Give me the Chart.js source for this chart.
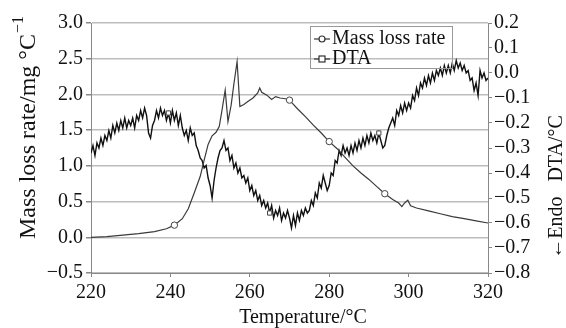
<!DOCTYPE html>
<html>
<head>
<meta charset="utf-8">
<script src="https://cdn.jsdelivr.net/npm/chart.js@4.4.0/dist/chart.umd.min.js"></script>
<style>
  html, body { margin: 0; padding: 0; background: #fff; }
  #wrap { width: 566px; height: 328px; position: relative; }
</style>
</head>
<body>
<div id="wrap"><canvas id="chart"></canvas></div>
<script>
// Mass loss rate (left axis, mg/°C)
const massTemps = [220, 224, 228, 232, 236, 239, 241, 243, 244.5, 246, 247.5, 248.5, 249.5, 250.5, 251.5, 252.3,
  253, 253.8, 254.5, 255.3, 256, 256.8, 257.5, 258.5, 259.5, 260.8, 262, 262.5, 263, 264.3, 265.5, 266.5,
  267.6, 269, 270, 272, 274, 276, 278, 280, 282, 284, 286, 288, 290, 292, 294, 296, 297.5, 298.3, 299,
  299.8, 300.5, 302, 305, 308, 311, 314, 317, 320];
const massLoss = [0.00, 0.01, 0.03, 0.05, 0.08, 0.12, 0.17, 0.26, 0.40, 0.62, 0.85, 1.08, 1.30, 1.42, 1.47, 1.55,
  1.78, 2.06, 1.62, 1.85, 2.15, 2.46, 1.83, 1.86, 1.90, 1.95, 2.02, 2.09, 2.03, 1.99, 1.93, 1.97,
  1.95, 1.94, 1.92, 1.80, 1.69, 1.57, 1.46, 1.34, 1.24, 1.12, 1.00, 0.90, 0.81, 0.71, 0.61, 0.53, 0.48, 0.43, 0.48,
  0.52, 0.44, 0.41, 0.37, 0.33, 0.29, 0.26, 0.23, 0.20];
const massMarkerTemps = [241, 270, 280, 294];

// DTA (right axis, °C), sampled every 0.5 °C from 220
const dtaStart = 220;
const dtaStep = 0.5;
const dtaValues = [
  -0.32, -0.29, -0.33, -0.28, -0.30, -0.26, -0.29, -0.25, -0.27, -0.23,
  -0.26, -0.21, -0.24, -0.20, -0.23, -0.19, -0.22, -0.18, -0.22, -0.19,
  -0.21, -0.18, -0.22, -0.17, -0.19, -0.15, -0.18, -0.14, -0.17, -0.24,
  -0.26, -0.21, -0.19, -0.15, -0.18, -0.14, -0.17, -0.15, -0.19, -0.16,
  -0.20, -0.15, -0.19, -0.16, -0.21, -0.17, -0.22, -0.25, -0.23, -0.27,
  -0.22, -0.25, -0.24, -0.29, -0.31, -0.34, -0.35, -0.38, -0.37, -0.42,
  -0.45, -0.50, -0.43, -0.38, -0.34, -0.31, -0.30, -0.27, -0.31, -0.30,
  -0.35, -0.33, -0.38, -0.36, -0.40, -0.38, -0.42, -0.41, -0.44, -0.42,
  -0.47, -0.45, -0.49, -0.47, -0.51, -0.49, -0.53, -0.51, -0.54, -0.52,
  -0.56, -0.53, -0.58, -0.55, -0.57, -0.54, -0.59, -0.56, -0.58, -0.55,
  -0.58, -0.62, -0.57, -0.61, -0.56, -0.59, -0.55, -0.57, -0.54, -0.56,
  -0.55, -0.51, -0.53, -0.48, -0.50, -0.44, -0.46, -0.41, -0.44, -0.47,
  -0.45, -0.40, -0.41, -0.35, -0.36, -0.31, -0.33, -0.29, -0.32, -0.30,
  -0.33, -0.29, -0.32, -0.28, -0.31, -0.27, -0.30, -0.26, -0.29, -0.25,
  -0.28, -0.24, -0.27, -0.25, -0.28, -0.24, -0.27, -0.30, -0.29, -0.25,
  -0.22, -0.20, -0.18, -0.21, -0.15, -0.17, -0.13, -0.16, -0.12, -0.15,
  -0.12, -0.14, -0.09, -0.11, -0.06, -0.09, -0.04, -0.06, -0.02, -0.05,
  -0.01, -0.04, 0.00, -0.03, 0.01, -0.01, 0.02, -0.01, 0.03, 0.00,
  0.03, 0.00, 0.04, 0.01, 0.05, 0.02, 0.04, 0.01, 0.03, 0.00,
  0.01, -0.03, -0.02, -0.07, -0.04, -0.09, 0.01, -0.02, 0.00, -0.03,
  -0.02
];
const dtaMarkerTemps = [239.5, 265, 292.5];

const FONT = '"Liberation Serif", "Times New Roman", serif';
const fmt = v => (v < -1e-9 ? '\u2212' : '') + Math.abs(v).toFixed(1);

const massPoints = massTemps.map((t, i) => ({ x: t, y: massLoss[i] }));
const dtaPoints = dtaValues.map((v, i) => ({ x: dtaStart + i * dtaStep, y: v }));

// axis titles and legend drawn by hand so they sit where the original has them
const decorations = {
  id: 'decorations',
  afterDraw(chart) {
    const ctx = chart.ctx;
    ctx.save();
    ctx.fillStyle = '#111';
    ctx.textBaseline = 'middle';

    // left title with superscript
    ctx.save();
    ctx.translate(29, 128);
    ctx.rotate(-Math.PI / 2);
    ctx.font = '24px ' + FONT;
    const main = 'Mass loss rate/mg \u00B0C';
    const mw = ctx.measureText(main).width;
    ctx.font = '16px ' + FONT;
    const sw = ctx.measureText('\u22121').width;
    const x0 = -(mw + sw) / 2;
    ctx.textAlign = 'left';
    ctx.font = '24px ' + FONT;
    ctx.fillText(main, x0, 0);
    ctx.font = '16px ' + FONT;
    ctx.fillText('\u22121', x0 + mw + 1, -10);
    ctx.restore();

    // right title
    ctx.save();
    ctx.translate(557, 187);
    ctx.rotate(-Math.PI / 2);
    ctx.font = '20px ' + FONT;
    ctx.textAlign = 'center';
    ctx.fillText('\u2190Endo   DTA/\u00B0C', 0, 0);
    ctx.restore();

    // bottom title
    ctx.font = '20px ' + FONT;
    ctx.textAlign = 'center';
    ctx.fillText('Temperature/\u00B0C', 303, 318);

    // legend
    ctx.strokeStyle = '#999';
    ctx.lineWidth = 1;
    ctx.strokeRect(310.5, 26.5, 142, 42);
    ctx.font = '20px ' + FONT;
    ctx.textAlign = 'left';
    ctx.strokeStyle = '#333';
    ctx.lineWidth = 1.2;
    ctx.beginPath(); ctx.moveTo(314, 39); ctx.lineTo(330, 39); ctx.stroke();
    ctx.beginPath(); ctx.arc(322, 39, 3, 0, Math.PI * 2);
    ctx.fillStyle = '#fff'; ctx.fill(); ctx.stroke();
    ctx.beginPath(); ctx.moveTo(314, 59); ctx.lineTo(330, 59); ctx.stroke();
    ctx.fillRect(319, 56, 6, 6); ctx.strokeRect(319, 56, 6, 6);
    ctx.fillStyle = '#111';
    ctx.fillText('Mass loss rate', 332, 39);
    ctx.fillText('DTA', 332, 59);
    ctx.restore();
  }
};

Chart.defaults.font.family = FONT;
Chart.defaults.color = '#111';

new Chart(document.getElementById('chart'), {
  type: 'line',
  data: {
    datasets: [{
      label: 'Mass loss rate',
      data: massPoints,
      yAxisID: 'y',
      borderColor: '#3a3a3a',
      borderWidth: 1.2,
      tension: 0,
      pointRadius: c => massMarkerTemps.includes(c.raw && c.raw.x) ? 3.2 : 0,
      pointBackgroundColor: '#fff',
      pointBorderColor: '#444',
      pointBorderWidth: 1
    }, {
      label: 'DTA',
      data: dtaPoints,
      yAxisID: 'y2',
      borderColor: '#111',
      borderWidth: 1.4,
      tension: 0,
      pointStyle: 'rect',
      pointRadius: c => dtaMarkerTemps.includes(c.raw && c.raw.x) ? 3 : 0,
      pointBackgroundColor: '#fff',
      pointBorderColor: '#444',
      pointBorderWidth: 1
    }]
  },
  options: {
    responsive: true,
    maintainAspectRatio: false,
    animation: false,
    layout: { padding: { top: 23, left: 0, right: 0, bottom: 0 } },
    plugins: { legend: { display: false }, tooltip: { enabled: false } },
    scales: {
      x: {
        type: 'linear',
        min: 220,
        max: 320,
        ticks: { stepSize: 20, font: { size: 20 }, padding: 4, maxRotation: 0 },
        grid: { drawOnChartArea: false, tickLength: 4, color: '#888' },
        border: { color: '#888' },
        afterFit: s => { s.height = 55; }
      },
      y: {
        position: 'left',
        min: -0.5,
        max: 3.0,
        ticks: { stepSize: 0.5, font: { size: 20 }, padding: 3, callback: fmt },
        grid: { color: '#bdbdbd', lineWidth: 1.5, tickLength: 5, tickColor: '#888' },
        border: { color: '#888' },
        afterFit: s => { s.width = 91; }
      },
      y2: {
        position: 'right',
        min: -0.8,
        max: 0.2,
        ticks: { stepSize: 0.1, autoSkip: false, font: { size: 20 }, padding: 2, callback: fmt },
        grid: { drawOnChartArea: false, tickLength: 4, color: '#888' },
        border: { color: '#888' },
        afterFit: s => { s.width = 78; }
      }
    }
  },
  plugins: [decorations]
});
</script>
</body>
</html>
